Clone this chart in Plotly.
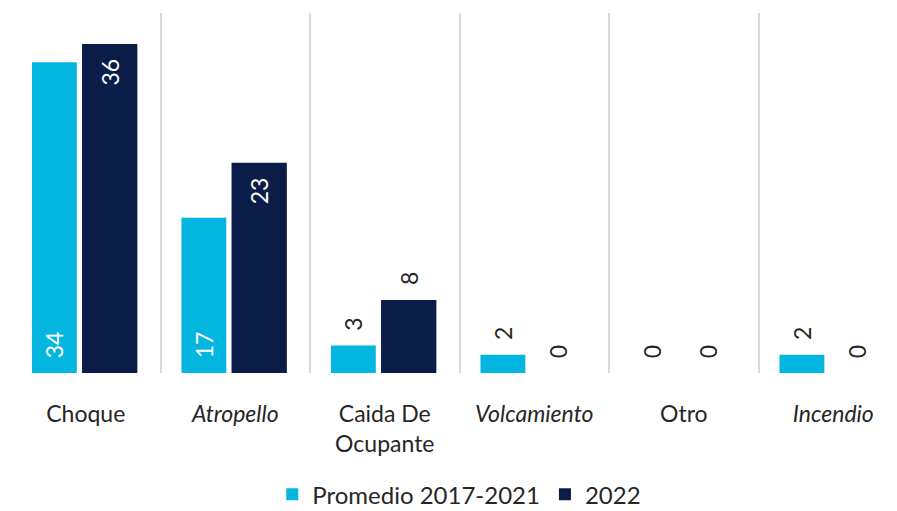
import plotly.graph_objects as go

# Tipos de siniestro y número de víctimas por periodo
categorias = ["Choque", "Atropello", "Caida De<br>Ocupante", "Volcamiento", "Otro", "Incendio"]
promedio_2017_2021 = [34, 17, 3, 2, 0, 2]
anio_2022 = [36, 23, 8, 0, 0, 0]

# Categorías cuyo rótulo va en cursiva
en_cursiva = {"Atropello", "Volcamiento", "Incendio"}

COLOR_PROMEDIO = "#03B6E0"
COLOR_2022 = "#0A1D48"
COLOR_TEXTO = "#262626"
FUENTE = "Lato"
UMBRAL_DENTRO = 10   # valores desde aquí se rotulan dentro de la barra
ESPACIO = "\u00a0\u00a0"


def posiciones(valores):
    return ["inside" if v >= UMBRAL_DENTRO else "outside" for v in valores]


def colores_texto(valores):
    return ["white" if v >= UMBRAL_DENTRO else COLOR_TEXTO for v in valores]


def rotulos(valores, anclaje_dentro):
    salida = []
    for v in valores:
        if v >= UMBRAL_DENTRO and anclaje_dentro == "end":
            salida.append(f"{v}{ESPACIO}")
        else:
            salida.append(f"{ESPACIO}{v}")
    return salida


fig = go.Figure()

fig.add_trace(go.Bar(
    name="Promedio 2017-2021",
    x=categorias,
    y=promedio_2017_2021,
    marker=dict(color=COLOR_PROMEDIO, line=dict(width=0)),
    text=rotulos(promedio_2017_2021, "start"),
    textposition=posiciones(promedio_2017_2021),
    insidetextanchor="start",
    textangle=-90,
    textfont=dict(family=FUENTE, size=23, color=colores_texto(promedio_2017_2021)),
    constraintext="none",
    width=0.30,
    offset=-0.36,
    cliponaxis=False,
))

fig.add_trace(go.Bar(
    name="2022",
    x=categorias,
    y=anio_2022,
    marker=dict(color=COLOR_2022, line=dict(width=0)),
    text=rotulos(anio_2022, "end"),
    textposition=posiciones(anio_2022),
    insidetextanchor="end",
    textangle=-90,
    textfont=dict(family=FUENTE, size=23, color=colores_texto(anio_2022)),
    constraintext="none",
    width=0.37,
    offset=-0.025,
    cliponaxis=False,
))

fig.update_layout(
    width=897,
    height=511,
    margin=dict(l=11, r=0, t=13, b=138, autoexpand=False),
    paper_bgcolor="white",
    plot_bgcolor="white",
    font=dict(family=FUENTE, size=23, color=COLOR_TEXTO),
    barmode="group",
    showlegend=True,
    legend=dict(
        orientation="h",
        xref="container",
        yref="container",
        x=0.512,
        xanchor="center",
        y=0.032,
        yanchor="middle",
        font=dict(family=FUENTE, size=24, color=COLOR_TEXTO),
        itemwidth=30,
        tracegroupgap=0,
    ),
)

fig.update_xaxes(
    type="category",
    range=[-0.5, 5.426],
    tickson="boundaries",
    tickmode="array",
    tickvals=categorias,
    ticktext=[f"<i>{c}</i>" if c in en_cursiva else c for c in categorias],
    showgrid=True,
    gridcolor="#D9D9D9",
    gridwidth=1.5,
    ticks="",
    showline=False,
    zeroline=False,
    automargin=False,
    ticklabelstandoff=25,
    tickfont=dict(family=FUENTE, size=23, color=COLOR_TEXTO),
)

fig.update_yaxes(
    range=[0, 39.4],
    visible=False,
    showgrid=False,
    zeroline=False,
)

fig.write_html("out.html")
